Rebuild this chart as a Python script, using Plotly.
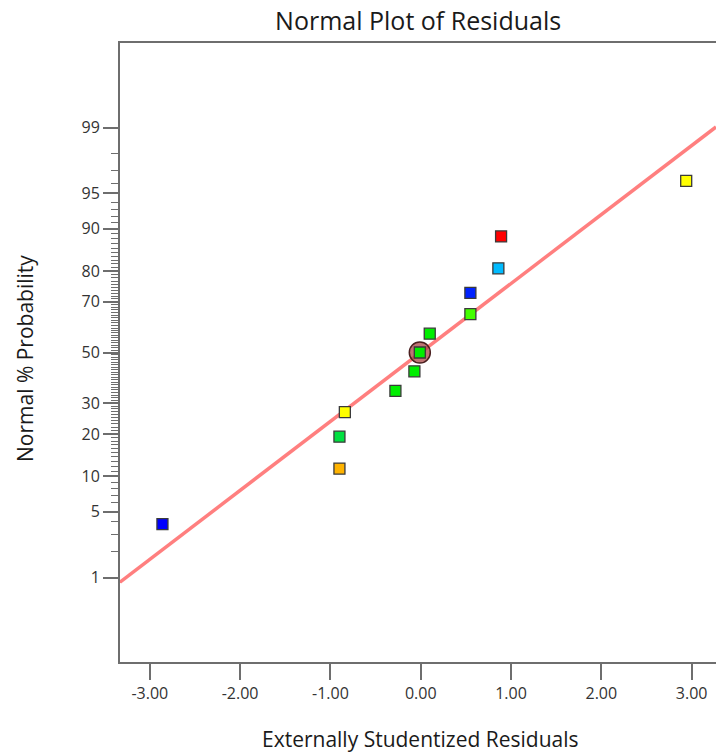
import plotly.graph_objects as go
from statistics import NormalDist

# ---- data ----
residuals = [-2.86, -0.90, -0.90, -0.84, -0.28, -0.07, -0.01, 0.10, 0.55, 0.55, 0.86, 0.89, 2.94]
probability = [3.8, 11.5, 19.2, 26.9, 34.6, 42.3, 50.0, 57.7, 65.4, 73.1, 80.8, 88.5, 96.2]
colors = ["#0000FF", "#FFB300", "#00E040", "#FFFF00", "#00EE00", "#00EE00", "#00EE00",
          "#00EE00", "#44FF00", "#0022FF", "#00BBFF", "#FF0000", "#FFFF00"]
highlight_index = 6

major_ticks = [1, 5, 10, 20, 30, 50, 70, 80, 90, 95, 99]
minor_ticks = list(range(1, 100))
x_ticks = [-3, -2, -1, 0, 1, 2, 3]

fit_slope = 0.713
fit_intercept = 0.0
x_range = [-3.33, 3.27]
z_range = [-3.2, 3.2]

nd = NormalDist()
def z(p):
    return nd.inv_cdf(p / 100.0)

res_z = [z(p) for p in probability]
line_x = x_range
line_y = [fit_intercept + fit_slope * v for v in line_x]

font_family = "Open Sans, Noto Sans, sans-serif"
fig = go.Figure()

fig.add_trace(go.Scatter(x=line_x, y=line_y, mode="lines",
                         line=dict(color="#FF7F7F", width=3.5),
                         hoverinfo="skip", showlegend=False, cliponaxis=True))

fig.add_trace(go.Scatter(x=[residuals[highlight_index]], y=[res_z[highlight_index]],
                         mode="markers",
                         marker=dict(symbol="circle", size=21, color="rgba(170,70,70,0.75)",
                                     line=dict(color="#4a2020", width=1.5)),
                         showlegend=False, hoverinfo="skip"))

fig.add_trace(go.Scatter(x=residuals, y=res_z, mode="markers",
                         marker=dict(symbol="square", size=11, color=colors,
                                     line=dict(color="#3a3a3a", width=1.3)),
                         showlegend=False,
                         customdata=probability,
                         hovertemplate="%{x:.2f}, %{customdata}%<extra></extra>"))

fig.update_layout(
    width=716, height=755,
    margin=dict(l=120, r=0, t=43, b=93),
    paper_bgcolor="white", plot_bgcolor="white",
    font=dict(family=font_family, color="#333333"),
    title=dict(text="Normal Plot of Residuals", x=0.584, xanchor="center",
               y=1 - 21 / 755, yanchor="middle",
               font=dict(size=25, color="#1a1a1a", family=font_family)),
)

fig.update_xaxes(range=x_range, tickvals=x_ticks,
                 ticktext=[f"{v:.2f}" for v in x_ticks],
                 showgrid=False, zeroline=False,
                 showline=True, linecolor="#6e6e6e", linewidth=2, mirror=True,
                 ticks="outside", ticklen=16, tickwidth=1.5, tickcolor="#6e6e6e",
                 tickfont=dict(size=16, color="#333333"))

fig.update_yaxes(range=z_range, tickvals=[z(p) for p in major_ticks],
                 ticktext=[str(p) for p in major_ticks],
                 showgrid=False, zeroline=False,
                 showline=True, linecolor="#6e6e6e", linewidth=2, mirror=False,
                 ticks="outside", ticklen=15, tickwidth=1.5, tickcolor="#6e6e6e",
                 tickfont=dict(size=16, color="#333333"),
                 minor=dict(tickmode="array", tickvals=[z(p) for p in minor_ticks],
                            ticks="outside", ticklen=7, tickwidth=1, tickcolor="#6e6e6e"))

fig.add_annotation(text="Externally Studentized Residuals", xref="paper", yref="paper",
                   x=0.504, y=-(739 - 662) / (662 - 43), xanchor="center", yanchor="middle",
                   showarrow=False, font=dict(size=21, color="#1a1a1a", family=font_family))
fig.add_annotation(text="Normal % Probability", xref="paper", yref="paper",
                   x=-(120 - 25) / 596, y=(662 - 359) / (662 - 43), textangle=-90,
                   xanchor="center", yanchor="middle",
                   showarrow=False, font=dict(size=21, color="#1a1a1a", family=font_family))

fig.write_html("out.html")
